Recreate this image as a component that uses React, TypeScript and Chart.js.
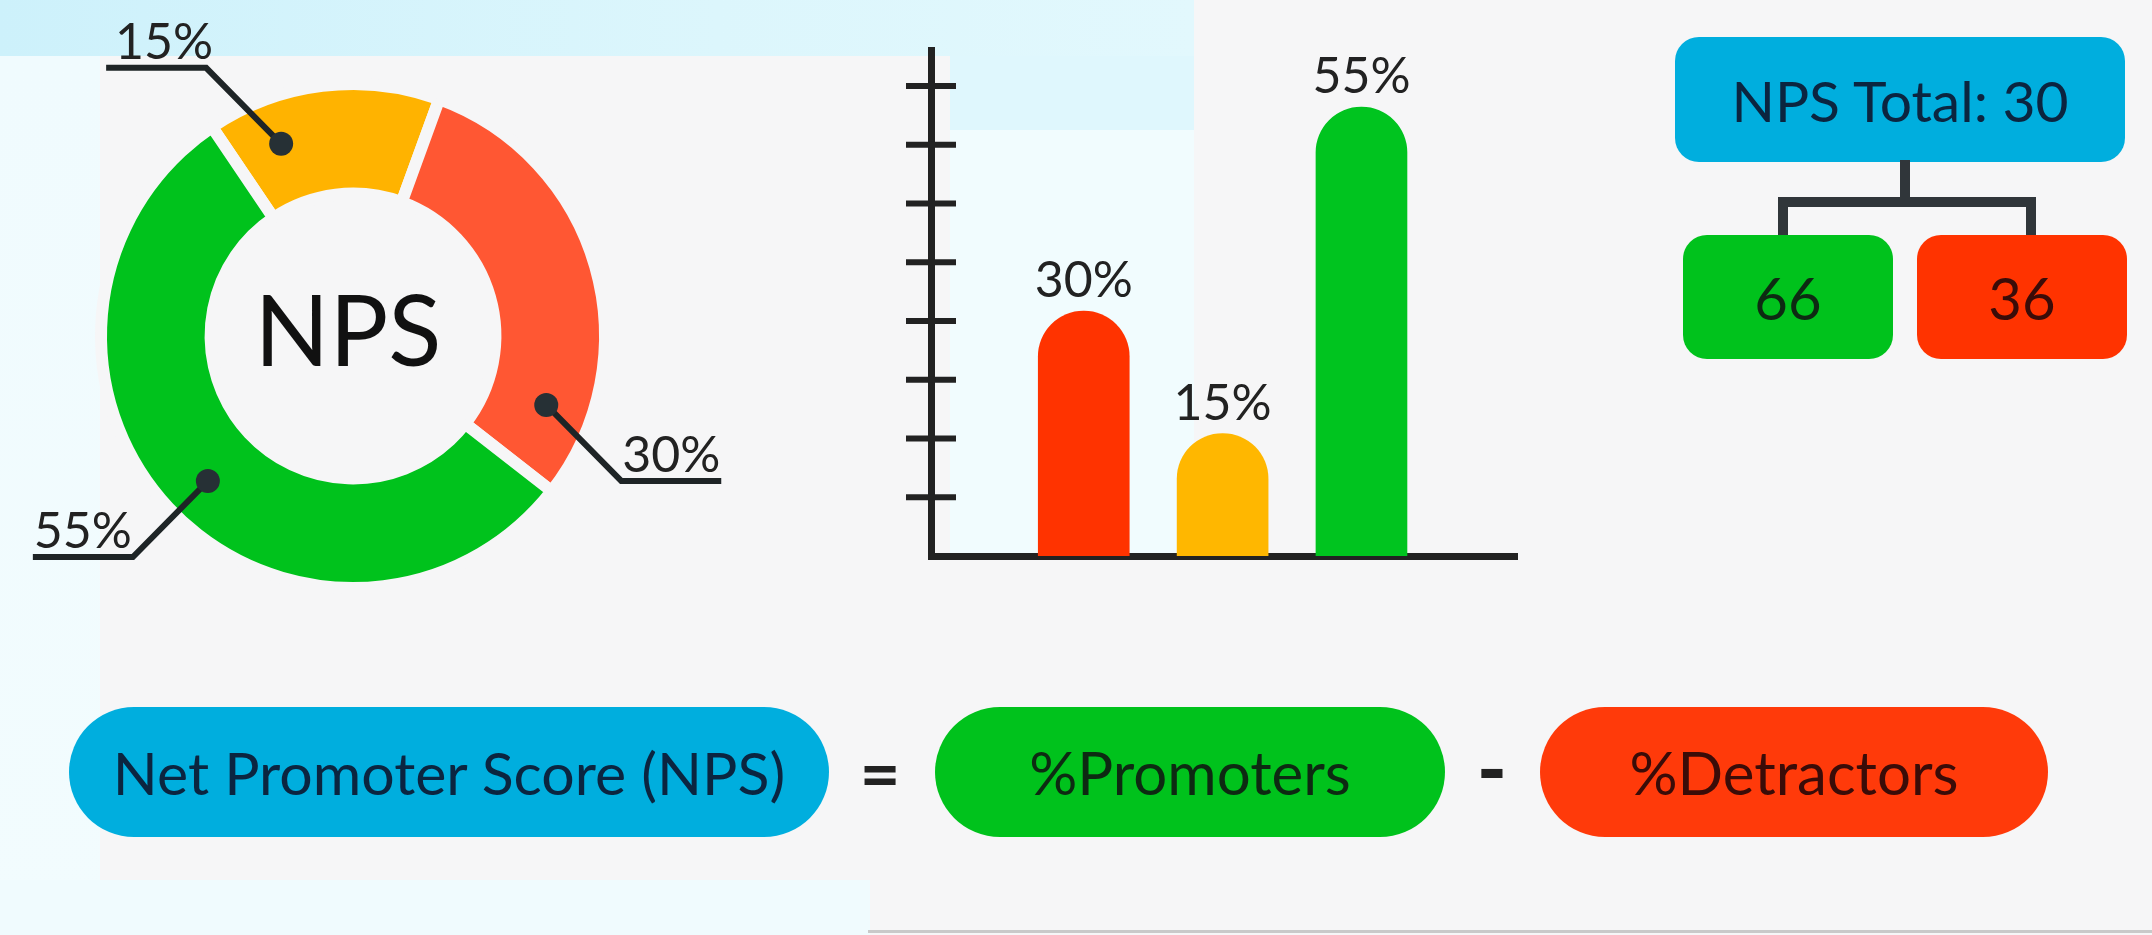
import React, { useEffect, useRef } from 'react';
import { Chart, registerables } from 'chart.js';

Chart.register(...registerables);

// ---- data ----
const segmentLabels = ['Passives', 'Detractors', 'Promoters'];
const segmentValues = [15, 30, 55];
const segmentColors = ['#FFB300', '#FF5733', '#00C21C'];

const barLabels = ['Detractors', 'Passives', 'Promoters'];
const barValues = [30, 15, 55];
const barColors = ['#FF3300', '#FFB700', '#00C41F'];
const barTickStep = 7.2;

const npsTotalLabel = 'NPS Total: 30';
const promoterScore = '66';
const detractorScore = '36';
const formulaTerms = ['Net Promoter Score (NPS)', '%Promoters', '%Detractors'];
const formulaOps = ['=', '-'];

// leader-line styling (where on each arc the pointer dot sits, and which way it goes)
const leaderFractions = [0.25, 0.83, 0.49];
const leaderDirs = [
  [-1, -1],
  [1, 1],
  [-1, 1],
];

const BG = '#f6f6f7';
const FONT = 'Lato, "Open Sans", sans-serif';

const leaderPlugin = {
  id: 'leaders',
  afterDatasetsDraw(chart: any) {
    const ctx = chart.ctx;
    const meta = chart.getDatasetMeta(0);
    meta.data.forEach((arc: any, i: number) => {
      const a = arc.getProps(['x', 'y', 'startAngle', 'endAngle', 'innerRadius', 'outerRadius']);
      const ang = a.startAngle + (a.endAngle - a.startAngle) * leaderFractions[i];
      const r = (a.innerRadius + a.outerRadius) / 2 + 8;
      const px = a.x + Math.cos(ang) * r;
      const py = a.y + Math.sin(ang) * r;
      const [sx, sy] = leaderDirs[i];
      const ex = px + sx * 75;
      const ey = py + sy * 76;
      const hx = ex + sx * 100;
      ctx.save();
      ctx.strokeStyle = '#1e2426';
      ctx.lineWidth = 6;
      ctx.beginPath();
      ctx.moveTo(px, py);
      ctx.lineTo(ex, ey);
      ctx.lineTo(hx, ey);
      ctx.stroke();
      ctx.fillStyle = '#263035';
      ctx.beginPath();
      ctx.arc(px, py, 12, 0, Math.PI * 2);
      ctx.fill();
      ctx.font = `50px ${FONT}`;
      ctx.fillStyle = '#222';
      ctx.textAlign = 'center';
      ctx.textBaseline = 'alphabetic';
      ctx.fillText(`${segmentValues[i]}%`, (ex + hx) / 2 + (sy < 0 ? 8 : 0), ey - 9);
      ctx.restore();
    });
    const a0: any = meta.data[0];
    ctx.save();
    ctx.font = `98px ${FONT}`;
    ctx.fillStyle = '#111';
    ctx.textAlign = 'center';
    ctx.textBaseline = 'middle';
    ctx.fillText('NPS', a0.x - 5, a0.y - 2);
    ctx.restore();
  },
};

const barPlugin = {
  id: 'barDecor',
  afterDatasetsDraw(chart: any) {
    const ctx = chart.ctx;
    const y = chart.scales.y;
    const area = chart.chartArea;
    ctx.save();
    ctx.strokeStyle = '#222';
    ctx.lineWidth = 6;
    y.ticks.forEach((t: any) => {
      if (t.value <= 0 || t.value >= y.max) return;
      const py = y.getPixelForValue(t.value);
      ctx.beginPath();
      ctx.moveTo(area.left - 25, py);
      ctx.lineTo(area.left + 25, py);
      ctx.stroke();
    });
    const meta = chart.getDatasetMeta(0);
    ctx.font = `50px ${FONT}`;
    ctx.fillStyle = '#222';
    ctx.textAlign = 'center';
    ctx.textBaseline = 'alphabetic';
    meta.data.forEach((bar: any, i: number) => {
      ctx.fillText(`${barValues[i]}%`, bar.x, bar.y - 14);
    });
    ctx.restore();
  },
};

function Doughnut() {
  const ref = useRef<HTMLCanvasElement>(null);
  useEffect(() => {
    const chart = new Chart(ref.current!, {
      type: 'doughnut',
      data: {
        labels: segmentLabels,
        datasets: [
          {
            data: segmentValues,
            backgroundColor: segmentColors,
            borderColor: BG,
            borderWidth: 12,
            hoverOffset: 0,
          },
        ],
      },
      options: {
        animation: false,
        responsive: false,
        rotation: -34,
        cutout: '56.5%',
        layout: { padding: { left: 95, right: 149, top: 78, bottom: 46 } },
        plugins: { legend: { display: false }, tooltip: { enabled: false } },
      },
      plugins: [leaderPlugin],
    });
    return () => chart.destroy();
  }, []);
  return (
    <canvas
      ref={ref}
      width={760}
      height={640}
      style={{ position: 'absolute', left: 0, top: 0, width: 760, height: 640 }}
    />
  );
}

function Bars() {
  const ref = useRef<HTMLCanvasElement>(null);
  useEffect(() => {
    const chart = new Chart(ref.current!, {
      type: 'bar',
      data: {
        labels: barLabels,
        datasets: [
          {
            data: barValues.map((v, i) => ({ x: i + 1, y: v })),
            backgroundColor: barColors,
            borderRadius: { topLeft: 100, topRight: 100, bottomLeft: 0, bottomRight: 0 },
            borderSkipped: 'bottom',
            barThickness: 91,
          },
        ],
      },
      options: {
        animation: false,
        responsive: false,
        layout: { padding: { left: 51, right: 43, top: 20, bottom: 34 } },
        plugins: { legend: { display: false }, tooltip: { enabled: false } },
        scales: {
          x: {
            type: 'linear',
            min: -0.1,
            max: 4.12,
            offset: false,
            bounds: 'data',
            grid: { display: false, drawTicks: false, offset: false },
            ticks: { display: false },
            border: { display: true, width: 7, color: '#222' },
          },
          y: {
            min: 0,
            max: 62,
            grid: { display: false, drawTicks: false },
            ticks: { display: false, stepSize: barTickStep },
            border: { display: true, width: 7, color: '#222' },
          },
        },
      },
      plugins: [barPlugin],
    });
    return () => chart.destroy();
  }, []);
  return (
    <canvas
      ref={ref}
      width={680}
      height={560}
      style={{ position: 'absolute', left: 880, top: 30, width: 680, height: 560 }}
    />
  );
}

const abs = (l: number, t: number, w: number, h: number, extra: any = {}) => ({
  position: 'absolute' as const,
  left: l,
  top: t,
  width: w,
  height: h,
  ...extra,
});

const centered = {
  display: 'flex',
  alignItems: 'center',
  justifyContent: 'center',
};

export default function App() {
  useEffect(() => {
    document.body.style.margin = '0';
  }, []);
  const lineC = '#30363a';
  return (
    <div
      style={{
        position: 'fixed',
        left: 0,
        top: 0,
        width: 2152,
        height: 935,
        background: BG,
        overflow: 'hidden',
        fontFamily: FONT,
      }}
    >
      {/* background tints */}
      <div style={abs(0, 0, 1194, 56, { background: 'linear-gradient(90deg,#cdf1fb,#dcf6fc 60%,#e2f8fd)' })} />
      <div style={abs(950, 56, 244, 74, { background: '#dff7fd' })} />
      <div style={abs(950, 130, 244, 426, { background: '#f1fcfe' })} />
      <div style={abs(0, 56, 100, 879, { background: 'linear-gradient(180deg,#f0fbfe,#f2fcfe)' })} />
      <div style={abs(0, 880, 870, 55, { background: '#f0fbfe' })} />
      <div style={abs(868, 930, 1284, 3, { background: '#c9c9c9' })} />

      <Doughnut />
      <Bars />

      {/* NPS total tree */}
      <div
        style={abs(1675, 37, 450, 125, {
          ...centered,
          background: '#00AEDE',
          borderRadius: 24,
          fontSize: 57,
          color: '#0b2540',
        })}
      >
        {npsTotalLabel}
      </div>
      <div style={abs(1900, 160, 10, 46, { background: lineC })} />
      <div style={abs(1778, 197, 258, 10, { background: lineC })} />
      <div style={abs(1778, 197, 10, 40, { background: lineC })} />
      <div style={abs(2026, 197, 10, 40, { background: lineC })} />
      <div
        style={abs(1683, 235, 210, 124, {
          ...centered,
          background: '#00C21C',
          borderRadius: 24,
          fontSize: 58,
          color: '#0d2a12',
        })}
      >
        {promoterScore}
      </div>
      <div
        style={abs(1917, 235, 210, 124, {
          ...centered,
          background: '#FF3300',
          borderRadius: 24,
          fontSize: 58,
          color: '#3a0c08',
        })}
      >
        {detractorScore}
      </div>

      {/* formula */}
      <div
        style={abs(69, 707, 760, 130, {
          ...centered,
          background: '#00AEDE',
          borderRadius: 65,
          fontSize: 59,
          color: '#0b2540',
        })}
      >
        {formulaTerms[0]}
      </div>
      <div style={abs(840, 707, 80, 130, { ...centered, fontSize: 70, fontWeight: 700, color: '#222' })}>
        {formulaOps[0]}
      </div>
      <div
        style={abs(935, 707, 510, 130, {
          ...centered,
          background: '#00C21C',
          borderRadius: 65,
          fontSize: 60,
          color: '#0d2a12',
        })}
      >
        {formulaTerms[1]}
      </div>
      <div style={abs(1452, 702, 80, 130, { ...centered, fontSize: 80, fontWeight: 900, color: '#222' })}>
        {formulaOps[1]}
      </div>
      <div
        style={abs(1540, 707, 508, 130, {
          ...centered,
          background: '#FF3A0A',
          borderRadius: 65,
          fontSize: 60,
          color: '#3a0c08',
        })}
      >
        {formulaTerms[2]}
      </div>
    </div>
  );
}
